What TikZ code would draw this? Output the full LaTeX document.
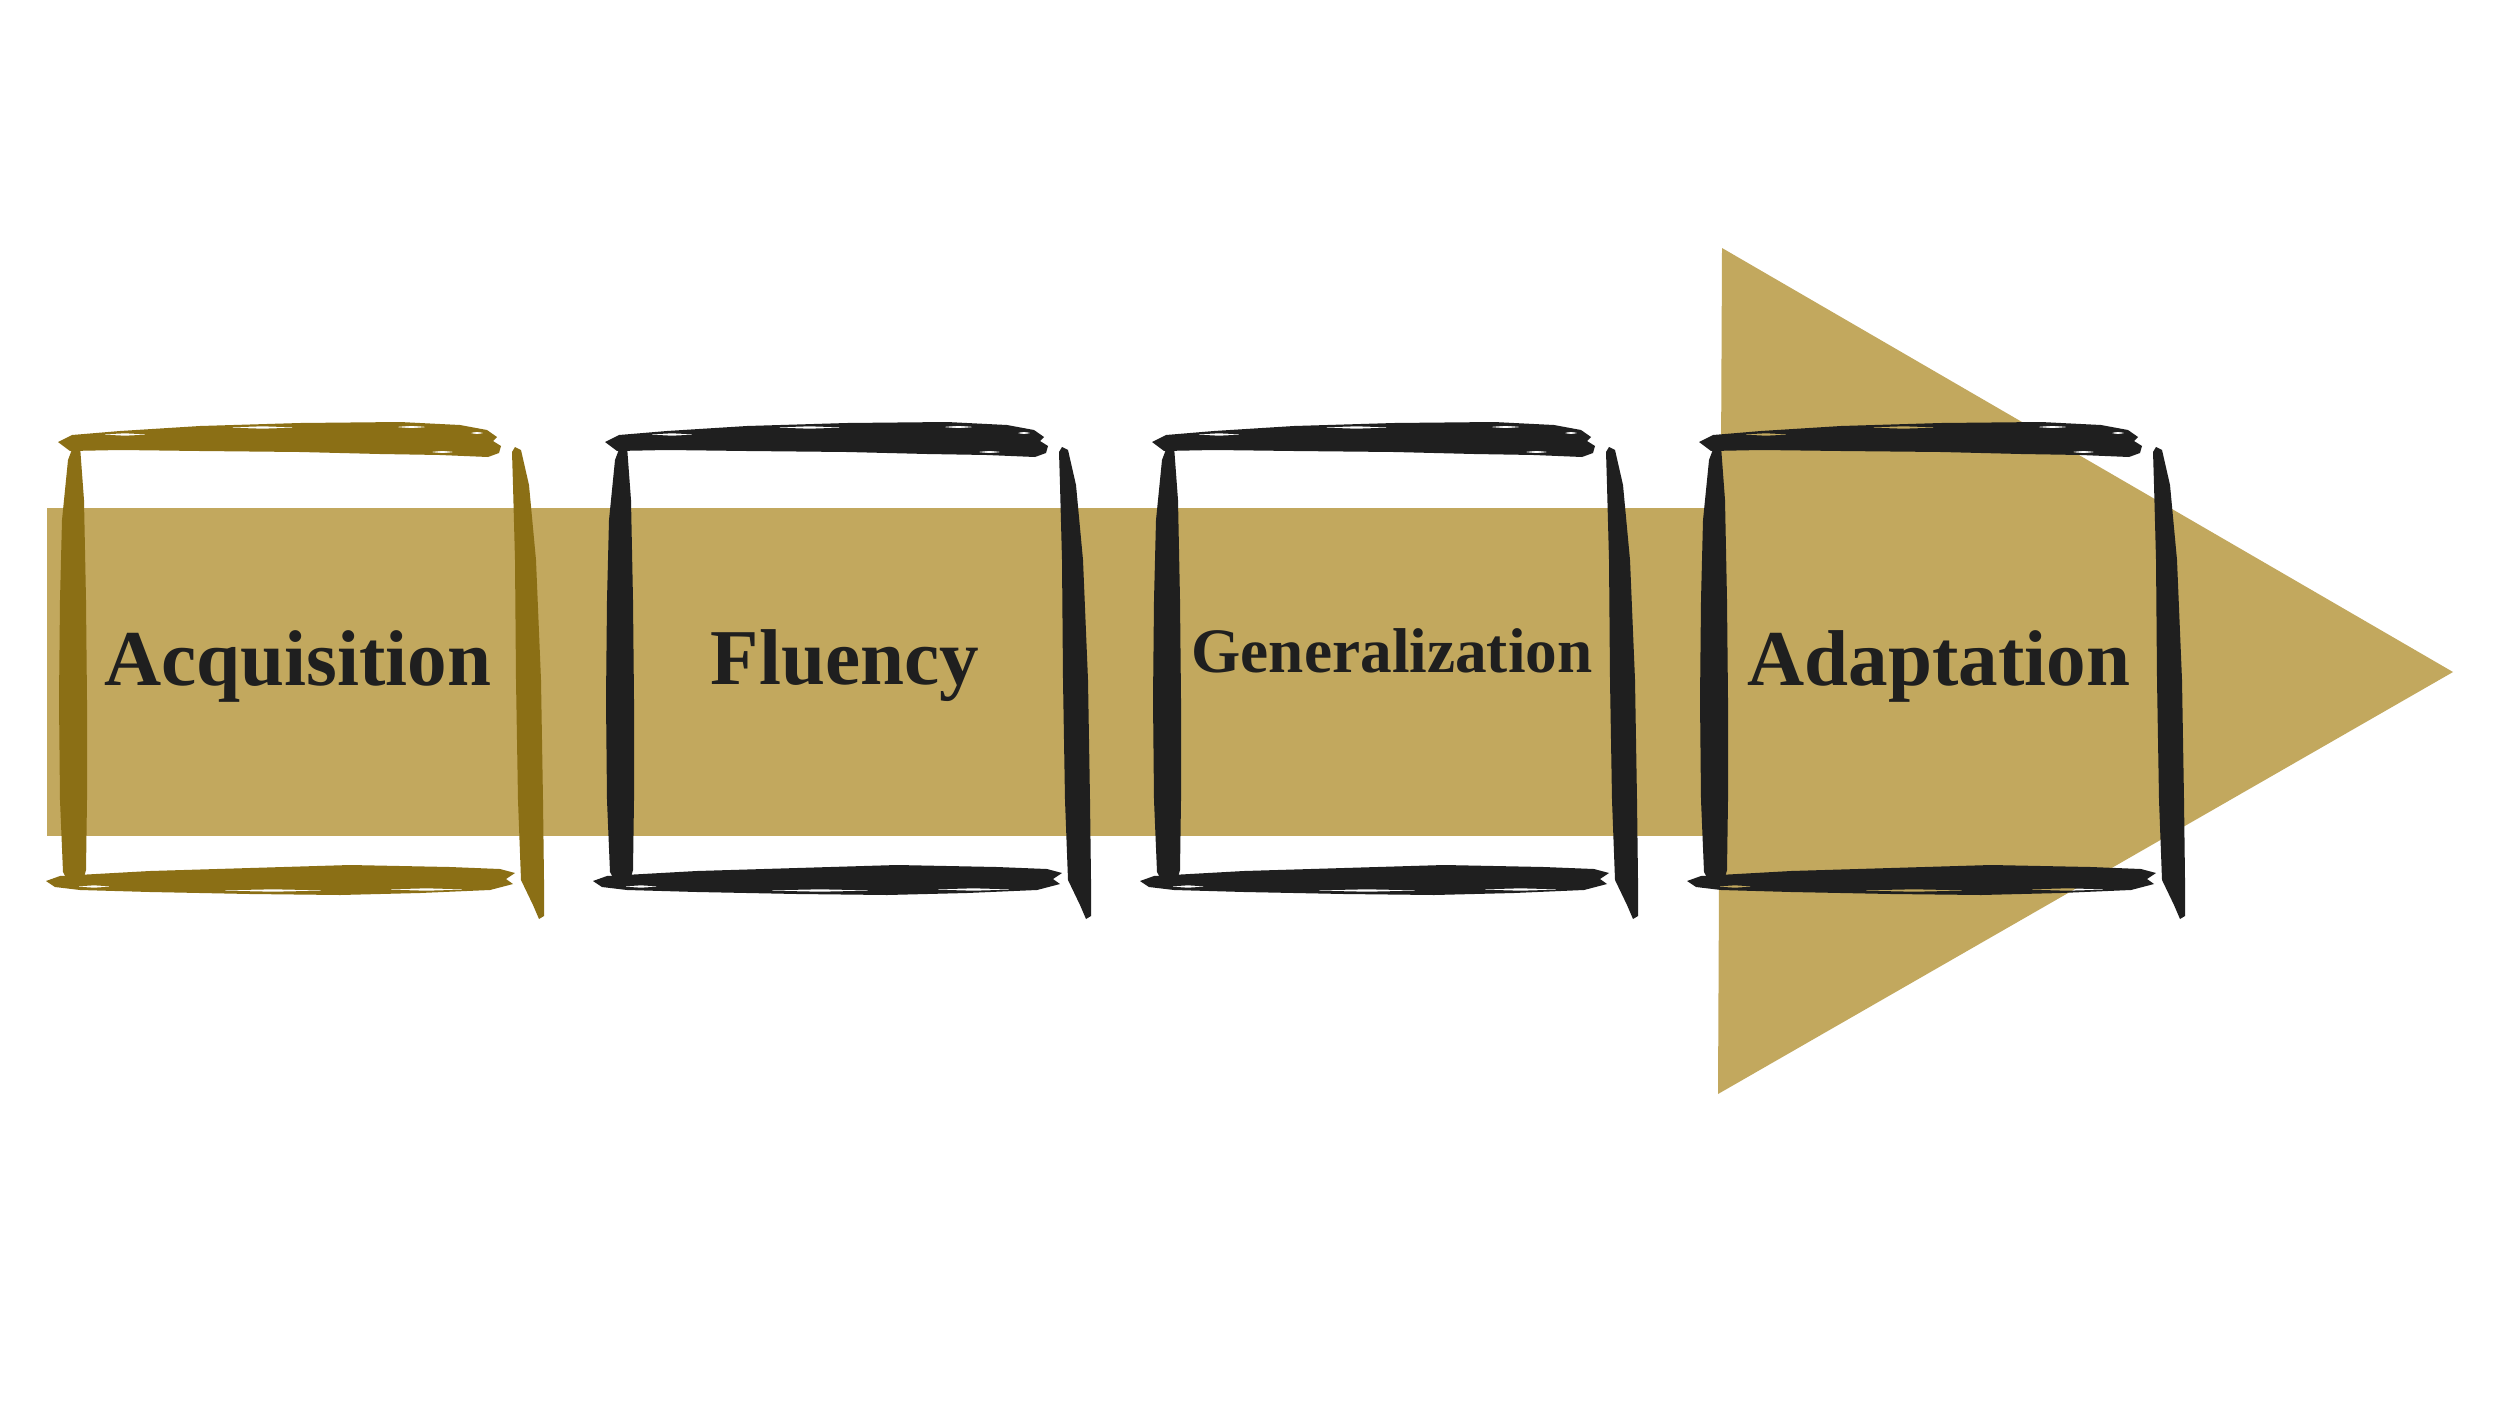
\documentclass[tikz,border=0pt]{standalone}
\usepackage{fontspec}
\setmainfont{Liberation Serif}
\definecolor{bargold}{RGB}{194,168,94}
\definecolor{brushgold}{RGB}{139,111,21}
\definecolor{ink}{RGB}{31,31,31}
\tikzset{
  lbl/.style={text=ink, font=\bfseries\fontsize{22.5}{27}\selectfont, inner sep=0pt, anchor=base},
  lblsmall/.style={lbl, font=\bfseries\fontsize{18}{22}\selectfont},
  barfill/.style={fill=bargold}
}
\newcommand{\brushbox}[2]{%
\begin{scope}[shift={(#1,0)}]
  % top stroke
  \fill[#2, even odd rule] (58,442) -- (72,435) -- (120,431) -- (200,426) -- (300,423) -- (400,422) -- (460,425) -- (487,430) -- (497,437) -- (493,441) -- (501,446) -- (499,453) -- (488,457) -- (440,455) -- (380,454) -- (300,452) -- (200,451) -- (120,450) -- (70,451) -- cycle
    \foreach \a/\b/\c in {100/150/434.5, 225/300/427.5, 395/428/427, 470/484/433, 430/455/452}
      { (\a,\c) -- ({(\a+\b)/2},\c-1.2) -- (\b,\c) -- ({(\a+\b)/2},\c+1.2) -- cycle };
  % left stroke
  \fill[#2] (74,444) -- (80,446) -- (84,500) -- (86,600) -- (87,700) -- (87,800) -- (86,870) -- (83,881) -- (69,883) -- (63,872) -- (60,800) -- (59,700) -- (60,600) -- (62,520) -- (68,460) -- cycle;
  % right stroke
  \fill[#2] (515,447) -- (521,450) -- (529,485) -- (536,560) -- (541,680) -- (543,800) -- (544,880) -- (544,916) -- (539,919) -- (533,905) -- (521,880) -- (518,800) -- (516,680) -- (515,560) -- (513,485) -- (512,452) -- cycle;
  % bottom stroke
  \fill[#2, even odd rule] (46,881) -- (60,876) -- (150,871) -- (250,868) -- (350,865) -- (450,867) -- (500,869) -- (515,873) -- (506,879) -- (513,884) -- (490,890) -- (420,893) -- (340,895) -- (250,894) -- (150,892) -- (80,890) -- (55,887) -- cycle
    \foreach \a/\b/\c in {75/113/886.5, 213/333/890.5, 382/471/889.5}
      { (\a,\c) -- ({(\a+\b)/2},\c-1.2) -- (\b,\c) -- ({(\a+\b)/2},\c+1.2) -- cycle };
\end{scope}}
\begin{document}
\begin{tikzpicture}[x=0.01cm,y=-0.01cm]
  \useasboundingbox (0,0) rectangle (2500,1406);
  \fill[white] (0,0) rectangle (2500,1406);
  % arrow
  \fill[barfill] (47,508) rectangle (1722,836);
  \fill[barfill] (1722,248) -- (2453,672) -- (1718,1094) -- cycle;
  % boxes
  \brushbox{0}{brushgold}
  \brushbox{547}{ink}
  \brushbox{1094}{ink}
  \brushbox{1641}{ink}
  % labels
  \node[lbl] (acq) at (298,685) {Acquisition};
  \node[lbl] (flu) at (845,684) {Fluency};
  \node[lblsmall] (gen) at (1392,672) {Generalization};
  \node[lbl] (ada) at (1939,685) {Adaptation};
\end{tikzpicture}
\end{document}
